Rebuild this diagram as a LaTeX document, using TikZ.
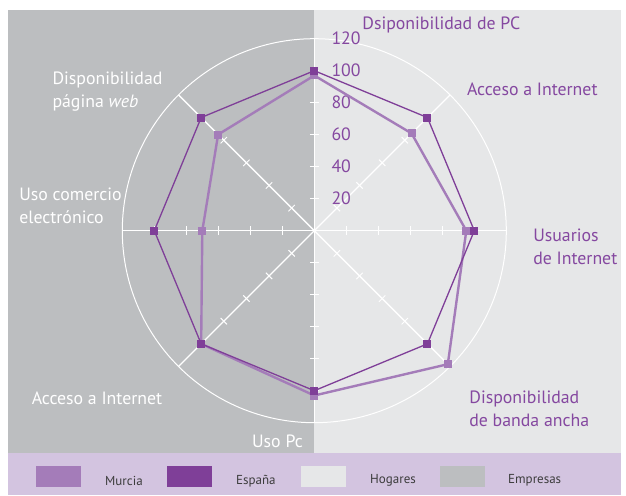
\documentclass[tikz,border=0pt]{standalone}
\usepackage{fontspec}
\setmainfont{PT Sans}
\definecolor{murcia}{HTML}{A47CB9}
\definecolor{espana}{HTML}{7F3F98}
\definecolor{hogares}{HTML}{E6E7E8}
\definecolor{empresas}{HTML}{BCBEC0}
\definecolor{banda}{HTML}{D3C4E0}
\definecolor{rotulo}{HTML}{8548A0}
\definecolor{leyenda}{HTML}{3C3C3C}
\tikzset{
	eje/.style={white,line width=1.4pt},
	rotder/.style={text=rotulo,align=left,inner sep=0pt},
	rotizq/.style={text=white,align=left,inner sep=0pt},
	caja/.style={minimum width=45pt,minimum height=21pt,inner sep=0pt},
	textley/.style={text=leyenda,anchor=west,inner sep=0pt,font=\fontsize{13}{15}\selectfont}
}
\begin{document}
\begin{tikzpicture}[x=1pt,y=1pt,line join=round,font=\fontsize{17.8}{23}\selectfont]
	\useasboundingbox (-314.3,-264.3) rectangle (311.7,230.7);
	\fill[empresas] (-306.3,-222.3) rectangle (0,220.7);
	\fill[hogares] (0,-222.3) rectangle (306.7,220.7);
	\fill[banda] (-306.3,-264.3) rectangle (306.7,-222.3);
	\draw[white,line width=1pt] (0,0) circle (192pt);
	\foreach \a in {0,45,...,315}{
		\draw[eje] (0,0) -- (\a:192);
		\foreach \r in {32,64,...,160}
			\draw[white,line width=1pt] (\a:\r) ++(\a+90:4.5) -- ++(\a-90:9);
	}
	\foreach \v in {20,40,...,120}
		\node[text=rotulo,anchor=west,inner sep=0pt] (n\v) at (17,{1.6*\v}) {\v};
	\foreach \a/\m [count=\i] in {90/97,45/86,0/95,-45/118,-90/103,-135/100,180/70,135/85}
		\coordinate (m\i) at (\a:{1.6*\m});
	\foreach \a [count=\i] in {90,45,0,-45,-90,-135,180,135}
		\coordinate (e\i) at (\a:160);
	\draw[murcia,line width=2.4pt] (m1)--(m2)--(m3)--(m4)--(m5)--(m6)--(m7)--(m8)--cycle;
	\foreach \i in {1,...,8}
		\fill[murcia] (m\i) ++(-4,-4) rectangle ++(8,8);
	\draw[espana,line width=1.3pt] (e1)--(e2)--(e3)--(e4)--(e5)--(e6)--(e7)--(e8)--cycle;
	\foreach \i in {1,...,8}
		\fill[espana] (e\i) ++(-4,-4) rectangle ++(8,8);
	\node[rotder] (pc) at (127,205.7) {Dsiponibilidad de PC};
	\node[rotder] (acceso) at (218,141.7) {Acceso a Internet};
	\node[rotder] (usuarios) at (261,-15.8) {Usuarios\\de Internet};
	\node[rotder] (banda) at (215,-177.8) {Disponibilidad\\de banda ancha};
	\node[rotizq] (usopc) at (-36.8,-210.3) {Uso Pc};
	\node[rotizq] (accesoe) at (-217.3,-167.3) {Acceso a Internet};
	\node[rotizq] (comercio) at (-243.8,25.2) {Uso comercio\\electrónico};
	\node[rotizq] (web) at (-206.8,139.2) {Disponibilidad\\página \emph{web}};
	\node[caja,fill=murcia] (cm) at (-255.8,-245.8) {};
	\node[caja,fill=espana] (ce) at (-124.3,-245.8) {};
	\node[caja,fill=hogares] (ch) at (8.7,-245.8) {};
	\node[caja,fill=empresas] (cp) at (147.7,-245.8) {};
	\node[textley] (lm) at (-209.3,-250) {Murcia};
	\node[textley] (le) at (-78.3,-250) {España};
	\node[textley] (lh) at (55.7,-250) {Hogares};
	\node[textley] (lp) at (193.7,-250) {Empresas};
\end{tikzpicture}
\end{document}
